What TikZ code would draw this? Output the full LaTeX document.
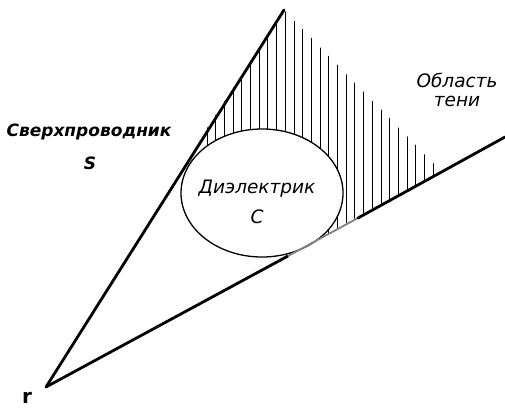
\documentclass[tikz,border=0pt]{standalone}
\usepackage{fontspec}
\setmainfont{DejaVu Sans}
\newfontfamily\lbl{DejaVu Sans}
\begin{document}
\begin{tikzpicture}[x=1pt,y=-1pt,
  edge/.style={line width=2.8pt,line cap=round},
  hatchline/.style={line width=0.9pt},
  ellipseline/.style={line width=1.3pt},
  lab/.style={font=\lbl\itshape\fontsize{18.5}{18.5}\selectfont,inner sep=0pt},
  blab/.style={font=\lbl\bfseries\itshape\fontsize{17}{17}\selectfont,inner sep=0pt}]
\useasboundingbox (0,0) rectangle (505,407);
\coordinate (r) at (46,387);
\coordinate (top) at (284,10);
\coordinate (rend) at (505,137);
\coordinate (tangA) at (288,256);
\coordinate (tangB) at (358,218);
% hatching
\begin{scope}
\clip (198,142) -- (top) -- (441,171) -- (305,246) -- (262,193) -- cycle;
\foreach \i in {0,...,26} {
  \draw[hatchline] ({207+8.7*\i},0) -- ({207+8.7*\i},300);
}
\end{scope}
% dielectric
\draw[ellipseline,fill=white] (262,193) ellipse [x radius=81, y radius=64];
% cone edges
\draw[edge] (r) -- (top);
\draw[edge] (r) -- (tangA);
\draw[line width=1.8pt,gray] (tangA) -- (tangB);
\draw[edge] (tangB) -- (rend);
% labels
\node[blab] (sv) at (89,132) {Сверхпроводник};
\node[blab] (s) at (90,163) {S};
\node[lab] (di) at (257,189) {Диэлектрик};
\node[lab] (c) at (257,217) {C};
\node[lab] (ob) at (457,80) {Область};
\node[lab] (ten) at (457,101) {тени};
\node[font=\fontsize{20}{20}\selectfont\bfseries\rmfamily,inner sep=0pt,anchor=base] (rl) at (27,403) {r};
\end{tikzpicture}
\end{document}
